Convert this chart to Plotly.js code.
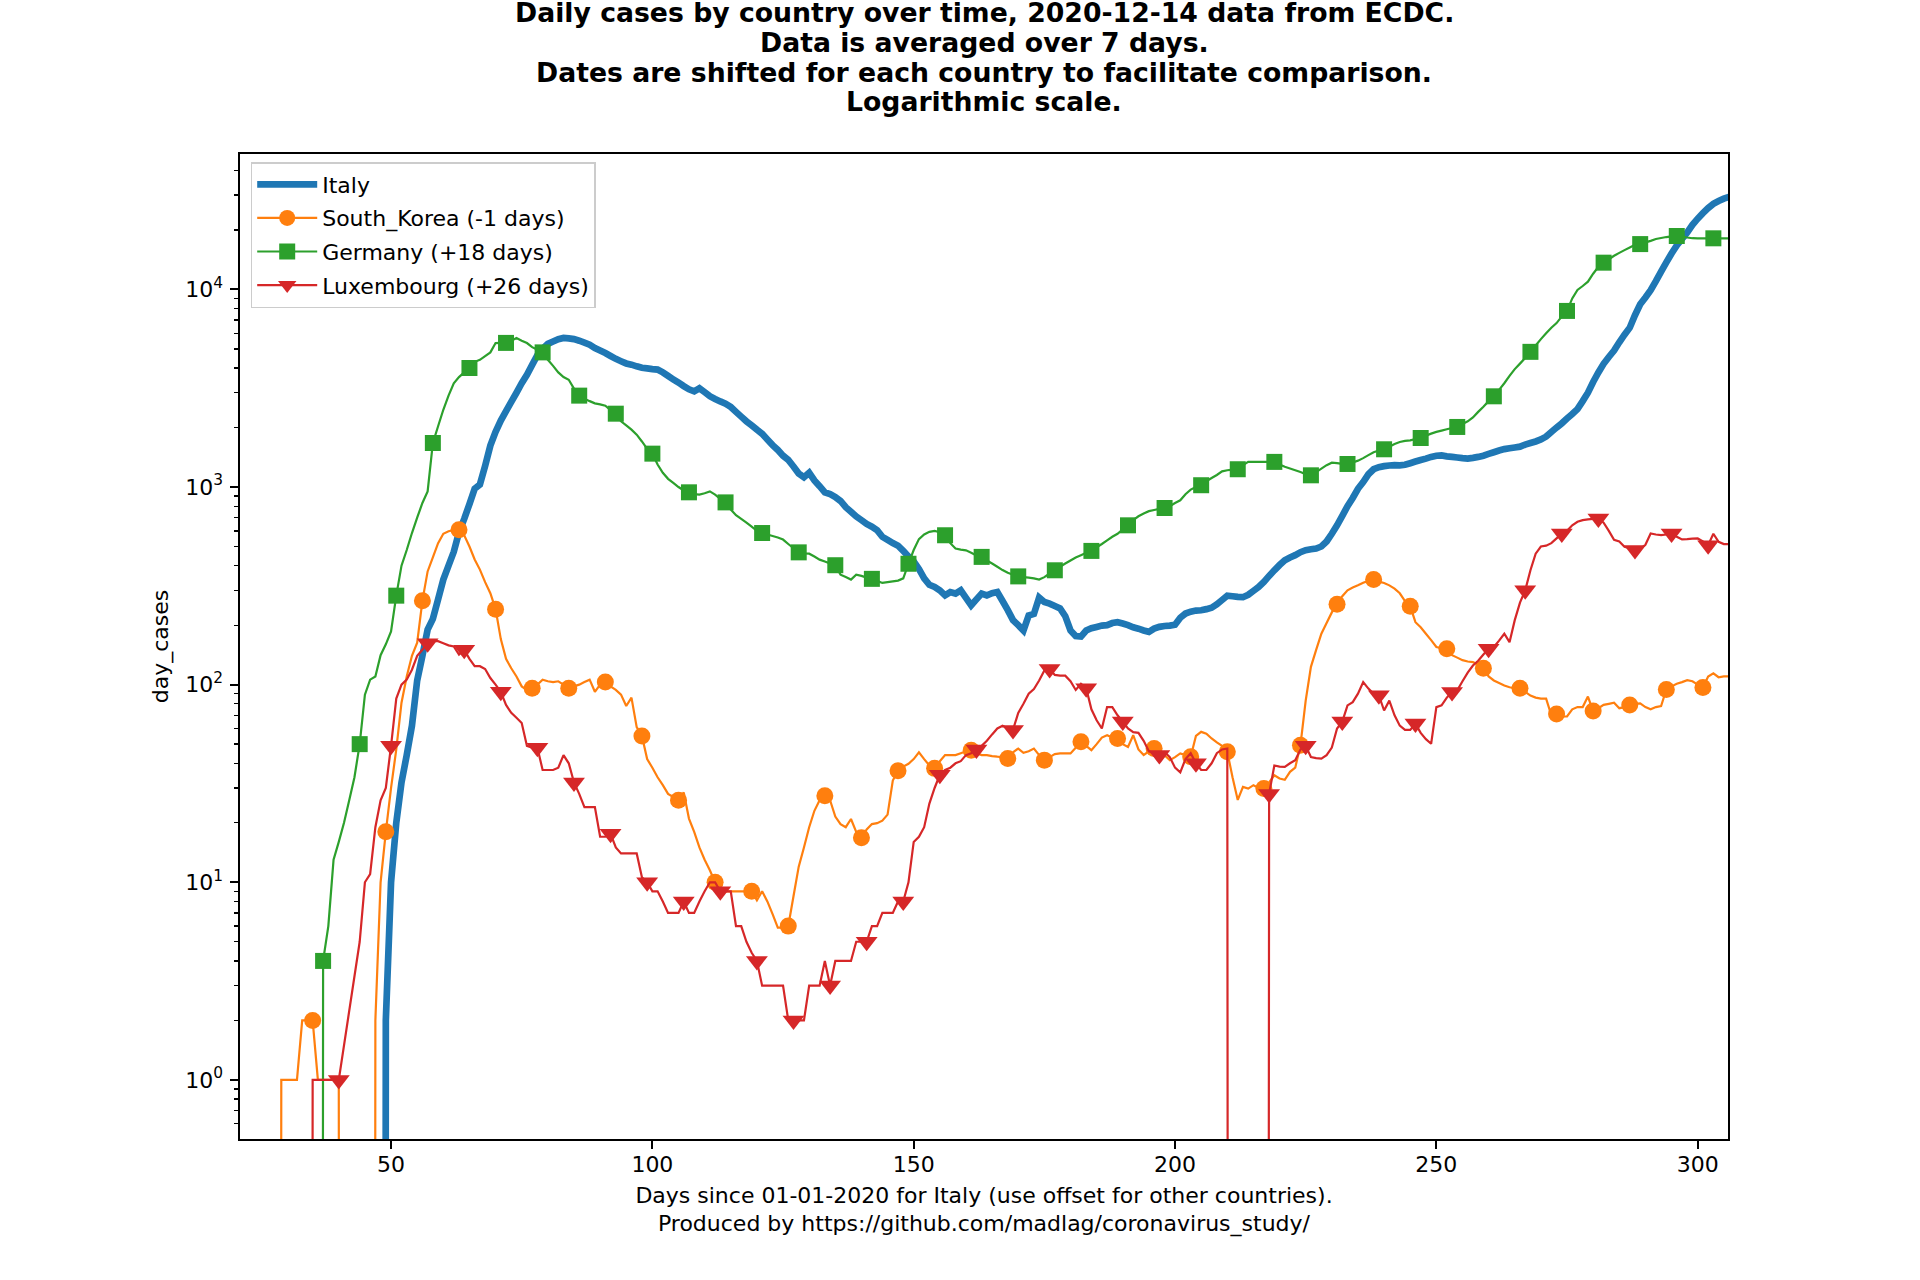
<!DOCTYPE html>
<html>
<head>
<meta charset="utf-8">
<script src="https://cdn.plot.ly/plotly-3.0.1.min.js"></script>
<style>html,body{margin:0;padding:0;background:#fff;}#chart{width:1920px;height:1280px;}</style>
</head>
<body>
<div id="chart"></div>
<script>
// ---------- data (7-day averaged daily cases) ----------
function dayRange(a, b) { const r = []; for (let d = a; d <= b; d++) r.push(d); return r; }

const titleLines = [
  'Daily cases by country over time, 2020-12-14 data from ECDC.',
  'Data is averaged over 7 days.',
  'Dates are shifted for each country to facilitate comparison.',
  'Logarithmic scale.'
];
const xTitle = 'Days since 01-01-2020 for Italy (use offset for other countries).<br>Produced by https://github.com/madlag/coronavirus_study/';
const yTitle = 'day_cases';
const xTickVals = [50, 100, 150, 200, 250, 300];
const yTickVals = [1, 10, 100, 1000, 10000];
const yTickText = ['10<sup>0</sup>', '10<sup>1</sup>', '10<sup>2</sup>', '10<sup>3</sup>', '10<sup>4</sup>'];

const seriesNames = ['Italy', 'South_Korea (-1 days)', 'Germany (+18 days)', 'Luxembourg (+26 days)'];

// Italy, days 48..306
const italyDays = dayRange(48, 306);
const italyCases = [
  0, 2, 10, 20, 32, 44, 62, 105, 140, 190,
  215, 270, 340, 400, 470, 590, 690, 820, 980, 1030,
  1280, 1620, 1900, 2170, 2420, 2700, 3000, 3350, 3700, 4150,
  4650, 5000, 5300, 5450, 5600, 5680, 5650, 5600, 5500, 5380,
  5250, 5050, 4900, 4760, 4600, 4450, 4330, 4220, 4160, 4080,
  4010, 3980, 3950, 3930, 3800, 3650, 3500, 3380, 3240, 3120,
  3050, 3160, 3020, 2880, 2790, 2710, 2640, 2540, 2400, 2270,
  2150, 2050, 1950, 1860, 1740, 1630, 1540, 1440, 1370, 1270,
  1170, 1120, 1180, 1080, 1010, 940, 920, 890, 850, 790,
  750, 710, 680, 650, 630, 605, 560, 540, 520, 505,
  475, 445, 420, 385, 345, 320, 312, 300, 283, 294,
  289, 300, 275, 252, 270, 289, 283, 290, 294, 265,
  238, 212, 200, 188, 224, 228, 276, 262, 257, 250,
  243, 222, 188, 176, 175, 188, 193, 196, 199, 200,
  205, 207, 204, 200, 195, 192, 188, 185, 192, 196,
  198, 199, 201, 218, 229, 234, 237, 238, 241, 245,
  255, 268, 282, 280, 278, 277, 285, 298, 312, 331,
  355, 379, 403, 426, 440, 452, 468, 479, 484, 488,
  500, 530, 580, 640, 715, 800, 880, 980, 1060, 1160,
  1230, 1260, 1275, 1285, 1290, 1288, 1295, 1320, 1345, 1370,
  1392, 1420, 1440, 1445, 1430, 1420, 1410, 1400, 1393, 1405,
  1420, 1440, 1470, 1500, 1530, 1555, 1570, 1585, 1600, 1640,
  1670, 1700, 1740, 1800, 1900, 2000, 2100, 2220, 2340, 2480,
  2720, 3000, 3400, 3800, 4200, 4550, 4900, 5400, 5900, 6400,
  7400, 8400, 9100, 9900, 11000, 12300, 13700, 15200, 16700, 18000,
  19400, 21200, 22800, 24300, 25800, 27100, 28000, 28800, 29400
];

// South Korea (shifted -1 day), days 28..306
const koreaDays = dayRange(28, 306);
const koreaCases = [
  0, 1, 1, 1, 1, 2, 2, 2, 1, 1,
  1, 1, 1, 0, 0, 0, 0, 0, 0, 2,
  10, 18, 30, 47, 81, 110, 140, 163, 266, 374,
  440, 520, 580, 597, 605, 608, 570, 500, 430, 382,
  330, 290, 241, 170, 135, 121, 110, 98, 94, 96,
  100, 106, 104, 103, 104, 100, 96, 98, 100, 103,
  106, 92, 100, 103, 98, 94, 89, 78, 86, 61,
  55, 42, 38, 34, 31, 28, 27, 26, 28.5, 21,
  18, 15, 13, 11.5, 10, 9.5, 9, 9, 9, 9,
  9, 9, 8.1, 9, 8, 6.9, 5.9, 5.9, 6, 8.5,
  12, 15, 19, 23, 26, 27.4, 26, 21.5, 19.7, 19,
  20.9, 18, 16.8, 18.5, 19.7, 19.9, 20.5, 22, 32.7, 36.7,
  38.5, 39.8, 42, 45.5, 42, 39, 37.7, 41, 44, 44,
  44, 45, 46, 46.6, 45, 44, 44, 43.5, 43.2, 43,
  42.3, 45.5, 47.5, 45.2, 46, 47.5, 44, 41.5, 43, 44.5,
  44.9, 44.9, 44.9, 48, 51.4, 49, 46.6, 50, 54, 55.5,
  54, 53.4, 50, 48.4, 55.5, 47, 44, 46, 47.5, 45,
  44, 41.5, 43, 44.9, 44, 43.2, 55, 57.7, 56.5, 53.4,
  51, 49, 45.7, 34, 26.1, 30.4, 29.8, 31, 30, 29.8,
  32, 34.8, 33.5, 33, 36.2, 38, 49.4, 83, 123, 150,
  181, 205, 232, 255, 280, 300, 310, 318, 328, 335,
  340, 332, 327, 318, 306, 290, 265, 249, 207, 195,
  181, 168, 155, 153, 152, 141, 137, 133, 131, 130,
  126, 121, 110, 105, 102, 99, 97, 96, 96, 92,
  88, 86, 85, 85, 70, 71, 69, 69, 75, 77,
  77, 87, 73.5, 76, 79, 80, 81, 76, 77, 78.9,
  80, 80.4, 77, 75, 77, 78, 94.6, 98, 101, 103,
  105.4, 104, 100, 96.8, 110, 114, 109, 110, 110
];

// Germany (shifted +18 days), days 30..306
const germanyDays = dayRange(30, 306);
const germanyCases = [
  0, 0, 0, 0, 0, 0, 0, 4, 6, 13,
  16, 20, 26, 34, 50, 89, 106, 110, 141, 160,
  186, 282, 400, 480, 585, 700, 830, 950, 1670, 2030,
  2460, 2900, 3350, 3600, 3800, 4000, 4300, 4400, 4600, 4800,
  5350, 5360, 5360, 5500, 5680, 5500, 5350, 5100, 4950, 4800,
  4400, 4100, 3800, 3600, 3490, 3150, 2900, 2800, 2720, 2650,
  2620, 2580, 2450, 2350, 2150, 2050, 1950, 1840, 1700, 1560,
  1475, 1300, 1180, 1100, 1050, 1000, 960, 940, 920, 915,
  930, 950, 915, 870, 836, 770, 720, 690, 660, 630,
  600, 585, 575, 565, 555, 542, 515, 490, 467, 462,
  460, 445, 429, 420, 410, 402, 360, 350, 340, 360,
  355, 348, 343, 335, 327, 330, 333, 336, 345, 409,
  480, 545, 575, 593, 600, 590, 570, 520, 488, 482,
  478, 465, 450, 443, 425, 410, 395, 380, 368, 360,
  353, 350, 348, 345, 340, 350, 365, 379, 395, 410,
  425, 440, 452, 465, 475, 495, 515, 537, 560, 580,
  610, 640, 680, 711, 735, 755, 765, 775, 783, 800,
  830, 857, 920, 970, 1000, 1021, 1070, 1110, 1150, 1200,
  1216, 1225, 1230, 1290, 1340, 1340, 1340, 1340, 1340, 1340,
  1300, 1265, 1240, 1216, 1190, 1160, 1146, 1190, 1240, 1290,
  1328, 1320, 1310, 1308, 1330, 1360, 1400, 1450, 1500, 1530,
  1552, 1600, 1650, 1690, 1710, 1723, 1750, 1770, 1820, 1862,
  1900, 1930, 1960, 1990, 2013, 2080, 2150, 2250, 2400, 2550,
  2720, 2877, 3100, 3350, 3650, 3950, 4210, 4500, 4830, 5200,
  5600, 6000, 6400, 6750, 7300, 7780, 9000, 9930, 10400, 10940,
  12000, 13000, 13650, 14200, 14800, 15300, 15800, 16300, 16800, 16950,
  17300, 17600, 17980, 18200, 18400, 18550, 18620, 18500, 18300, 18150,
  18130, 18130, 18130, 18130, 18100, 18100, 18100
];

// Luxembourg (shifted +26 days); the source has no rows for days 41-43
const luxDays = dayRange(33, 40).concat(dayRange(44, 306));
const luxCases = [
  0, 0, 1, 1, 1, 1, 1, 1,
  5, 10, 11, 19, 26, 30, 49, 85, 100, 106,
  119, 140, 150, 162, 166, 166, 162, 158, 156, 142,
  150, 135, 124, 124, 120, 108, 100, 92, 79, 72,
  68, 64, 49, 48, 48, 37, 37, 37, 38, 44,
  40, 32, 28, 24, 24, 24, 17, 17, 17.6, 15,
  14, 14, 14, 14, 10.6, 10, 9, 9, 8, 7,
  7, 7, 8, 7, 7, 8, 9, 10, 10, 9,
  9, 9, 6, 6, 5, 4.4, 4, 3, 3, 3,
  3, 3, 2, 2, 2, 2, 3, 3, 3, 4,
  3, 4, 4, 4, 4, 5, 5, 5, 6, 6,
  7, 7, 7, 8, 8, 10, 16, 17, 19, 25,
  30, 35, 37, 38, 40, 41, 44, 45, 47, 49,
  52, 56, 60, 62, 60, 59, 72, 80, 90, 95,
  105, 118, 120, 112, 111, 111, 104, 94, 101, 96,
  75, 66, 60, 77, 77, 70, 65, 60, 57.5, 57,
  52, 46, 45, 44, 45.6, 43, 38, 36, 42, 45,
  40, 37, 37, 40, 45, 47, 47.5, 0, 0, 0,
  0, 0, 0, 0, 28, 39, 38.5, 38.4, 40, 41.5,
  47, 49, 43, 42.5, 42.2, 44, 48, 60, 65, 78.5,
  81.6, 90, 103, 95.5, 90, 88.3, 74, 83, 70, 62,
  59, 59, 63.5, 57, 53, 50.2, 77, 78.5, 86, 91.8,
  93.5, 104, 115, 125, 132, 142, 152, 155, 167, 181,
  164, 212, 260, 300, 379, 460, 500, 505, 520, 550,
  582, 600, 640, 667, 680, 686, 690, 693, 660, 600,
  540, 530, 499, 490, 480, 487, 510, 582, 575, 571,
  575, 582, 560, 543, 545, 548, 549, 530, 508, 580,
  528, 514, 514
];

// ---------- drawing ----------
const FONT = 'DejaVu Sans, Liberation Sans, sans-serif';
const MARK_EVERY = 7;
// matplotlib clips non-positive values on a log axis to a tiny number, so the line plunges straight below the frame
const logSafe = v => (v > 0 ? v : 1e-30);

const traces = [];
traces.push({
  x: italyDays, y: italyCases.map(logSafe), mode: 'lines', name: seriesNames[0],
  legendgroup: 'g0', line: {color: '#1f77b4', width: 6.7, simplify: false}, hoverinfo: 'skip'
});

const marked = [
  {days: koreaDays, cases: koreaCases, color: '#ff7f0e', symbol: 'circle', size: 17, name: seriesNames[1], g: 'g1'},
  {days: germanyDays, cases: germanyCases, color: '#2ca02c', symbol: 'square', size: 16, name: seriesNames[2], g: 'g2'},
  {days: luxDays, cases: luxCases, color: '#d62728', symbol: 'triangle-down', size: 19, name: seriesNames[3], g: 'g3'}
];
marked.forEach(s => {
  traces.push({
    x: s.days, y: s.cases.map(logSafe), mode: 'lines', showlegend: false, legendgroup: s.g,
    line: {color: s.color, width: 2.2, simplify: false}, hoverinfo: 'skip'
  });
  const mx = [], my = [];
  s.days.forEach((d, i) => { if (i % MARK_EVERY === 0) { mx.push(d); my.push(logSafe(s.cases[i])); } });
  traces.push({
    x: mx, y: my, mode: 'markers', showlegend: false, legendgroup: s.g,
    marker: {symbol: s.symbol, size: s.size, color: s.color, line: {width: 0}}, hoverinfo: 'skip'
  });
});
marked.forEach(s => {
  traces.push({
    x: [null], y: [null], mode: 'lines+markers', name: s.name, legendgroup: s.g,
    line: {color: s.color, width: 2.2},
    marker: {symbol: s.symbol, size: s.size, color: s.color, line: {width: 0}}
  });
});

const minorVals = [];
for (let e = -1; e <= 4; e++) for (let m = 2; m <= 9; m++) {
  const v = m * Math.pow(10, e);
  if (v >= 0.5 && v <= 48000) minorVals.push(v);
}

const L = 240, R = 1728, T = 154, B = 1139;
const py = yPix => (B - yPix) / (B - T);
const titleY = [13, 42.5, 72, 101.7];

const layout = {
  width: 1920, height: 1280,
  margin: {l: L, r: 1920 - R, t: T, b: 1280 - B, pad: 0},
  paper_bgcolor: '#ffffff', plot_bgcolor: '#ffffff',
  font: {family: FONT, size: 22, color: '#000000'},
  showlegend: true,
  legend: {
    x: (250.7 - L) / (R - L), y: py(162), xanchor: 'left', yanchor: 'top',
    bgcolor: 'rgba(255,255,255,0.8)', bordercolor: '#cccccc', borderwidth: 1.5,
    font: {family: FONT, size: 22, color: '#000000'},
    itemwidth: 60, tracegroupgap: 2, itemclick: false, itemdoubleclick: false
  },
  xaxis: {
    range: [21.1, 305.8], tickmode: 'array', tickvals: xTickVals,
    ticks: 'outside', ticklen: 7.8, tickwidth: 1.8, tickcolor: '#000000',
    showline: true, linecolor: '#000000', linewidth: 1.8, mirror: true,
    showgrid: false, zeroline: false, ticklabelstandoff: -3,
    tickfont: {family: FONT, size: 22, color: '#000000'},
    title: {text: xTitle, standoff: 11, font: {family: FONT, size: 22, color: '#000000'}},
    automargin: false
  },
  yaxis: {
    type: 'log', range: [-0.299, 4.685], tickmode: 'array', tickvals: yTickVals, ticktext: yTickText,
    ticks: 'outside', ticklen: 7.8, tickwidth: 1.8, tickcolor: '#000000',
    minor: {tickmode: 'array', tickvals: minorVals, ticks: 'outside', ticklen: 4.4, tickwidth: 1.3, tickcolor: '#000000', showgrid: false},
    showline: true, linecolor: '#000000', linewidth: 1.8, mirror: true,
    showgrid: false, zeroline: false, ticklabelstandoff: 3,
    tickfont: {family: FONT, size: 22, color: '#000000'},
    title: {text: yTitle, standoff: 10, font: {family: FONT, size: 22, color: '#000000'}},
    automargin: false
  },
  annotations: titleLines.map((t, i) => ({
    text: t, xref: 'paper', yref: 'paper', x: 0.5, y: py(titleY[i]),
    xanchor: 'center', yanchor: 'middle', showarrow: false,
    font: {family: FONT, size: 26.7, color: '#000000', weight: 'bold'}
  }))
};

Plotly.newPlot('chart', traces, layout, {displayModeBar: false, staticPlot: true});
</script>
</body>
</html>
